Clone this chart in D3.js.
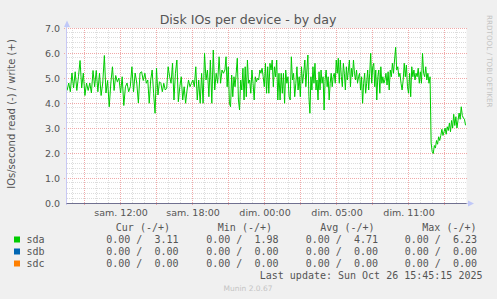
<!DOCTYPE html>
<html>
<head>
<meta charset="utf-8">
<script src="https://cdn.jsdelivr.net/npm/d3@7"></script>
<style>
  body { margin: 0; background: #f0f0f0; }
  svg { display: block; }
  text { font-family: "DejaVu Sans", sans-serif; }
  .mono text { font-family: "DejaVu Sans Mono", monospace; white-space: pre; }
</style>
</head>
<body>
<svg id="chart"></svg>
<script>
const width = 497
const height = 299

const plotLeft = 66.5
const plotRight = 466.5
const plotTop = 28
const plotBottom = 203

// hours since sam. 00:00 (real time, so dim. 05:00 is hour 30 after the DST switch)
const hourBlocks = [[7.55, 14.03], [14.03, 20.7], [20.7, 27.36], [27.36, 34.03], [34.03, 40.75]]

// sda write IOs/s
const sdaWrite1 = [4.5, 4.8, 4.45, 5.2, 4.6, 5.25, 4.5, 5.05, 5.7, 4.6, 5.2, 4.3, 4.8, 4.5, 4.8, 4.4,
  5.3, 4.65, 5.3, 4.45, 5.2, 4.3, 4.8, 5.9, 4.4, 4.9, 3.85, 4.8, 5.45, 4.5, 5.1, 4.85, 5.0, 4.4, 5.05,
  3.9, 4.65, 4.8, 4.45, 4.65, 5.45, 4.45, 5.2, 4.8, 4.0, 5.2, 5.25, 4.9]
const sdaWrite2 = [5.19, 4.79, 4.92, 3.99, 4.92, 5.32, 4.39, 3.59, 5.39, 4.32, 4.85, 4.79, 4.45, 4.79,
  4.52, 4.59, 5.45, 5.05, 4.79, 5.59, 4.12, 5.19, 5.72, 4.05, 4.65, 5.05, 4.12, 4.65, 3.99, 4.52, 4.92,
  4.65, 4.79, 4.92, 4.65, 5.45, 4.12, 4.92, 3.99, 5.19, 3.99, 5.99, 4.92, 5.32, 4.25, 5.72, 3.99, 6.12,
  4.52, 5.19, 4.79, 5.85, 4.79, 5.32, 5.19]
const sdaWrite3 = [5.32, 5.85, 4.65, 5.45, 3.99, 3.85, 5.12, 4.25, 5.05, 4.65, 5.19, 5.79, 4.12, 3.72,
  4.92, 4.52, 5.39, 4.12, 5.45, 4.25, 5.72, 4.79, 4.92, 4.39, 5.32, 4.79, 4.12, 5.05, 4.85, 4.99, 4.92,
  5.32, 5.19, 5.39, 5.05, 4.65, 5.59, 4.39, 5.45, 4.39, 5.59, 5.32, 5.72, 4.65, 5.45, 5.05, 5.72, 4.12,
  5.19, 4.12, 5.19, 4.39, 5.19, 3.99, 5.32, 4.79, 5.05, 4.25, 4.12, 5.85, 4.92, 5.19, 4.25, 4.79, 5.45,
  4.52, 5.05, 4.25, 5.45, 4.79, 5.19]
const sdaWrite4 = [5.72, 4.65, 5.32, 5.92, 4.25, 3.59, 5.05, 4.52, 5.45, 4.79, 5.59, 4.52, 4.92, 4.12,
  5.25, 4.52, 5.32, 4.79, 5.05, 3.72, 4.92, 5.32, 4.65, 5.05, 4.12, 4.79, 5.19, 4.65, 5.05, 5.19, 4.79,
  5.72, 5.19, 5.79, 4.79, 5.72, 5.05, 4.65, 5.59, 5.19, 4.52, 5.45, 4.92, 5.32, 5.72, 4.65, 5.39, 5.05,
  5.72, 5.19, 4.92, 5.32, 4.79, 5.05, 5.19, 4.52, 5.05, 3.99, 4.79, 5.19, 4.39, 4.79, 5.32, 4.52, 5.19,
  5.99, 4.79, 5.45, 5.59, 4.65, 5.32, 4.12, 5.05, 5.32, 4.39, 5.45, 4.79, 5.05, 4.79]
const sdaWrite5 = [4.92, 5.19, 4.72, 5.25, 4.52, 5.32, 5.05, 5.59, 5.19, 5.72, 6.23, 5.32, 5.45, 5.05,
  5.19, 4.79, 4.52, 4.92, 5.59, 5.05, 5.52, 4.65, 4.39, 5.19, 4.25, 5.45, 5.05, 5.32, 4.92, 5.19, 5.05,
  5.39, 4.79, 5.25, 4.79, 5.99, 5.19, 5.05, 5.45, 4.92, 5.19, 4.79, 5.05,
  2.4, 2.05, 1.98, 2.3, 2.2, 2.5, 2.35, 2.65, 2.5, 2.7, 2.95, 2.7, 2.85, 3.0, 2.75, 3.05, 2.9, 3.2,
  2.85, 3.3, 3.0, 3.55, 3.1, 3.45, 3.0, 3.3, 3.6, 3.35, 3.85, 3.5, 3.4, 3.35, 3.11]

const xTickHours = [12, 18, 24, 30, 36]
const xTickLabels = ["sam. 12:00", "sam. 18:00", "dim. 00:00", "dim. 05:00", "dim. 11:00"]
const yTicks = [0, 1, 2, 3, 4, 5, 6, 7]

const devices = ["sda", "sdb", "sdc"]
const curValues = [[0, 3.11], [0, 0], [0, 0]]
const minValues = [[0, 1.98], [0, 0], [0, 0]]
const avgValues = [[0, 4.71], [0, 0], [0, 0]]
const maxValues = [[0, 6.23], [0, 0], [0, 0]]
const lastUpdate = "Last update: Sun Oct 26 15:45:15 2025"

const sdaWrite = [sdaWrite1, sdaWrite2, sdaWrite3, sdaWrite4, sdaWrite5].flatMap((vals, b) => {
  const [a, e] = hourBlocks[b]
  const n = b === 4 ? vals.length - 1 : vals.length
  return vals.map((v, i) => ({t: a + i * (e - a) / n, v: v}))
})

const color = d3.scaleOrdinal().domain(devices).range(["#00cc00", "#0066b3", "#ff8000"])

const x = d3.scaleLinear().domain([7.5, 40.83]).range([plotLeft, plotRight])
const y = d3.scaleLinear().domain([0, 7]).range([plotBottom, plotTop])

const svg = d3.select("#chart")
  .attr("width", width)
  .attr("height", height)
  .style("background", "#f0f0f0")

svg.append("rect")
  .attr("x", plotLeft)
  .attr("y", plotTop)
  .attr("width", plotRight - plotLeft)
  .attr("height", plotBottom - plotTop)
  .attr("fill", "#ffffff")

// grid
const minorX = d3.range(8, 41, 1).filter(h => h % 3 !== 0)
const majorX = d3.range(9, 41, 3)
const minorY = d3.range(1, 35).map(i => i * 0.2).filter(v => Math.abs(v - Math.round(v)) > 0.01)
const px = v => Math.floor(v) + 0.5

const grid = svg.append("g").attr("shape-rendering", "crispEdges")
grid.selectAll(".vminor").data(minorX).enter().append("line")
  .attr("x1", d => px(x(d))).attr("x2", d => px(x(d)))
  .attr("y1", plotTop).attr("y2", plotBottom)
  .attr("stroke", "#dcdcdc").attr("stroke-dasharray", "1,1")
grid.selectAll(".hminor").data(minorY).enter().append("line")
  .attr("x1", plotLeft).attr("x2", plotRight)
  .attr("y1", d => px(y(d))).attr("y2", d => px(y(d)))
  .attr("stroke", "#dcdcdc").attr("stroke-dasharray", "1,1")
grid.selectAll(".vmajor").data(majorX).enter().append("line")
  .attr("x1", d => px(x(d))).attr("x2", d => px(x(d)))
  .attr("y1", plotTop).attr("y2", plotBottom + 3)
  .attr("stroke", "#f0a8a8").attr("stroke-dasharray", "1,1")
grid.selectAll(".hmajor").data(yTicks.filter(d => d > 0)).enter().append("line")
  .attr("x1", plotLeft - 3).attr("x2", plotRight)
  .attr("y1", d => px(y(d))).attr("y2", d => px(y(d)))
  .attr("stroke", "#f0a8a8").attr("stroke-dasharray", "1,1")

// data
const line = d3.line().x(d => x(d.t)).y(d => y(d.v))
svg.append("path")
  .datum(sdaWrite)
  .attr("fill", "none")
  .attr("stroke", color("sda"))
  .attr("stroke-width", 1)
  .attr("d", line)

// axes lines and arrows
svg.append("line")
  .attr("x1", plotLeft).attr("x2", plotLeft)
  .attr("y1", plotBottom + 2).attr("y2", 24)
  .attr("stroke", "#c8c8f4")
svg.append("line")
  .attr("x1", plotLeft).attr("x2", 470)
  .attr("y1", plotBottom + 0.5).attr("y2", plotBottom + 0.5)
  .attr("stroke", "#c8c8f4")
svg.append("line")
  .attr("x1", plotLeft).attr("x2", plotRight)
  .attr("y1", plotBottom + 0.5).attr("y2", plotBottom + 0.5)
  .attr("stroke", "#707090")
svg.append("path")
  .attr("d", "M64,27L67,20.5L70,27Z")
  .attr("fill", "#c0c8f8")
svg.append("path")
  .attr("d", "M468,200.5L474,203.5L468,206.5Z")
  .attr("fill", "#c0c8f8")

// tick labels
const xAxis = d3.axisBottom(x)
  .tickValues(xTickHours)
  .tickFormat((d, i) => xTickLabels[i])
  .tickSize(0)
const gx = svg.append("g")
  .attr("transform", `translate(0, ${plotBottom})`)
  .call(xAxis)
gx.select(".domain").remove()
gx.selectAll("text")
  .attr("y", 13).attr("dy", null)
  .attr("fill", "#555").attr("font-size", "9.5px")
  .style("font-family", "DejaVu Sans")

const yAxis = d3.axisLeft(y)
  .tickValues(yTicks)
  .tickFormat(d3.format(".1f"))
  .tickSize(0)
  .tickPadding(6.5)
const gy = svg.append("g")
  .attr("transform", `translate(${plotLeft}, 0)`)
  .call(yAxis)
gy.select(".domain").remove()
gy.selectAll("text")
  .attr("fill", "#555").attr("font-size", "9.5px")
  .style("font-family", "DejaVu Sans")

// titles
svg.append("text")
  .attr("x", 248).attr("y", 24)
  .attr("text-anchor", "middle")
  .attr("font-size", "12.6px")
  .attr("fill", "#555")
  .text("Disk IOs per device - by day")

svg.append("text")
  .attr("transform", "translate(14.5, 114) rotate(-90)")
  .attr("text-anchor", "middle")
  .attr("font-size", "10px")
  .attr("fill", "#555")
  .text("IOs/second read (-) / write (+)")

svg.append("text")
  .attr("transform", "translate(487, 15) rotate(90)")
  .attr("font-size", "7.2px")
  .attr("fill", "#c4c4c4")
  .text("RRDTOOL / TOBI OETIKER")

// legend
const legend = svg.append("g").attr("class", "mono").attr("font-size", "10px").attr("fill", "#555")
const headers = ["Cur (-/+)", "Min (-/+)", "Avg (-/+)", "Max (-/+)"]
const colEnds = [178.5, 278.5, 378, 477]
const headerEnds = [170, 272, 374.5, 476.5]
headers.forEach((h, i) => {
  legend.append("text").attr("x", headerEnds[i]).attr("y", 230.5)
    .attr("text-anchor", "end").text(h)
})
const fmt = d3.format(".2f")
const stats = [curValues, minValues, avgValues, maxValues]
devices.forEach((dev, r) => {
  const yy = 242.5 + r * 12
  legend.append("rect")
    .attr("x", 14).attr("y", yy - 6)
    .attr("width", 6).attr("height", 6)
    .attr("fill", color(dev))
  legend.append("text").attr("x", 26.5).attr("y", yy).text(dev)
  stats.forEach((s, c) => {
    legend.append("text").attr("x", colEnds[c]).attr("y", yy)
      .attr("text-anchor", "end")
      .text(`${fmt(s[r][0])} / ${fmt(s[r][1]).padStart(5, " ")}`)
  })
})
legend.append("text").attr("x", 482.5).attr("y", 278.5)
  .attr("text-anchor", "end").text(lastUpdate)

svg.append("text")
  .attr("x", 248).attr("y", 291)
  .attr("text-anchor", "middle")
  .attr("font-size", "7.5px")
  .attr("fill", "#c4c4c4")
  .text("Munin 2.0.67")
</script>
</body>
</html>
